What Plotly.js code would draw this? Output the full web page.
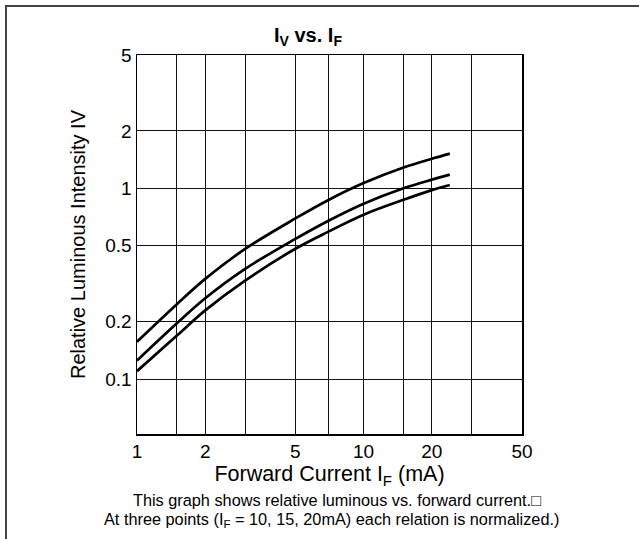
<!DOCTYPE html>
<html>
<head>
<meta charset="utf-8">
<script src="https://cdn.plot.ly/plotly-3.0.1.min.js"></script>
<style>
  html, body { margin: 0; padding: 0; background: #fff; }
  #wrap { position: relative; width: 639px; height: 539px; overflow: hidden; }
  #chart { width: 639px; height: 539px; }
  #frame { position: absolute; left: 5px; top: 5px; width: 640px; height: 540px;
           border-top: 2px solid #444; border-left: 2px solid #444; pointer-events: none; }
</style>
</head>
<body>
<div id="wrap">
  <div id="chart"></div>
  <div id="frame"></div>
</div>
<script>
// Forward current (mA)
const currentMA = [1, 1.5, 2, 3, 5, 7, 10, 15, 20, 24];
// Relative luminous intensity, normalized at IF = 10 mA
const ivNorm10 = [0.157, 0.247, 0.335, 0.481, 0.695, 0.869, 1.065, 1.285, 1.428, 1.52];
// normalized at IF = 15 mA
const ivNorm15 = [0.125, 0.196, 0.265, 0.378, 0.543, 0.676, 0.83, 1.0, 1.11, 1.18];
// normalized at IF = 20 mA
const ivNorm20 = [0.110, 0.169, 0.229, 0.328, 0.482, 0.593, 0.727, 0.870, 0.978, 1.04];

const xTickVals = [1, 2, 5, 10, 20, 50];
const xTickText = ['1', '2', '5', '10', '20', '50'];
const xMinorVals = [1.5, 3, 7, 15, 30];
const yTickVals = [0.1, 0.2, 0.5, 1, 2, 5];
const yTickText = ['0.1', '0.2', '0.5', '1', '2', '5'];

const FONT = 'Liberation Sans, Arial, Helvetica, sans-serif';
const lineStyle = {color: '#000', width: 2.7, shape: 'spline', smoothing: 1};

const traces = [ivNorm10, ivNorm15, ivNorm20].map((ys, i) => ({
  x: currentMA, y: ys, type: 'scatter', mode: 'lines',
  line: lineStyle, showlegend: false, hoverinfo: 'x+y',
  name: ['IF=10mA', 'IF=15mA', 'IF=20mA'][i]
}));

const layout = {
  width: 639, height: 539,
  margin: {l: 137, r: 117, t: 55, b: 105, pad: 0},
  paper_bgcolor: '#fff', plot_bgcolor: '#fff',
  font: {family: FONT, color: '#000', size: 18},
  showlegend: false,
  title: {
    text: '<b>I<sub>V</sub> vs. I<sub>F</sub></b>',
    x: 308 / 639, xref: 'container', xanchor: 'center',
    y: 1 - 35 / 539, yref: 'container', yanchor: 'middle',
    font: {family: FONT, size: 20, color: '#000'}
  },
  xaxis: {
    type: 'log',
    range: [0, Math.log10(50)],
    tickmode: 'array', tickvals: xTickVals, ticktext: xTickText,
    ticks: '', showgrid: true, gridcolor: '#111', gridwidth: 1,
    minor: {tickmode: 'array', tickvals: xMinorVals, showgrid: true, gridcolor: '#111', gridwidth: 1, ticks: ''},
    showline: true, linecolor: '#000', linewidth: 1.5, mirror: true,
    zeroline: false,
    tickfont: {family: FONT, size: 19, color: '#000'},
    title: {text: 'Forward Current I<sub>F</sub> (mA)', font: {family: FONT, size: 21.5, color: '#000'}, standoff: 0}
  },
  yaxis: {
    type: 'log',
    range: [Math.log10(0.0515), Math.log10(5)],
    tickmode: 'array', tickvals: yTickVals, ticktext: yTickText,
    ticks: '', showgrid: true, gridcolor: '#111', gridwidth: 1,
    showline: true, linecolor: '#000', linewidth: 1.5, mirror: true,
    zeroline: false,
    tickfont: {family: FONT, size: 19, color: '#000'},
    title: {text: 'Relative Luminous Intensity IV', font: {family: FONT, size: 20, color: '#000'}, standoff: 14}
  },
  annotations: [
    {text: 'This graph shows relative luminous vs. forward current.\u25A1',
     xref: 'paper', yref: 'paper', x: 0.5195, y: -0.173, xanchor: 'center', yanchor: 'middle',
     showarrow: false, font: {family: FONT, size: 16.3, color: '#000'}},
    {text: 'At three points (I<sub>F</sub> = 10, 15, 20mA) each relation is normalized.)',
     xref: 'paper', yref: 'paper', x: 0.5057, y: -0.226, xanchor: 'center', yanchor: 'middle',
     showarrow: false, font: {family: FONT, size: 16.3, color: '#000'}}
  ]
};

Plotly.newPlot('chart', traces, layout, {displayModeBar: false, staticPlot: true});
</script>
</body>
</html>
